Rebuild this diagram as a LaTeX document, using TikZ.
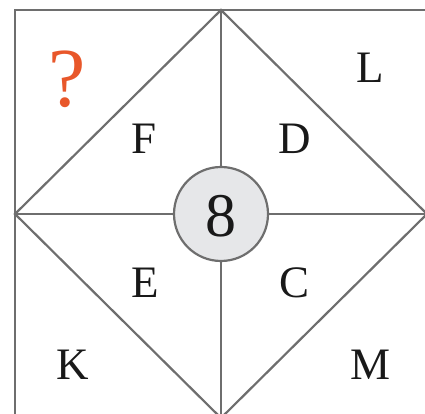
\documentclass[tikz,border=0pt]{standalone}
\usepackage{fontspec}
\setmainfont{Liberation Serif}
\definecolor{linegray}{HTML}{6E6E6E}
\definecolor{circfill}{HTML}{E6E7E9}
\definecolor{qorange}{HTML}{E8572A}
\begin{document}
\begin{tikzpicture}[x=1pt,y=1pt,
  edge/.style={draw=linegray,line width=2.2pt},
  lab/.style={inner sep=0pt,anchor=base,font=\fontsize{45}{45}\selectfont,text=black!90}]
\useasboundingbox (0,0) rectangle (425,414);
\clip (0,0) rectangle (425,414);
\coordinate (T) at (221,404);
\coordinate (Lf) at (15,200);
\coordinate (R) at (427,200);
\coordinate (B) at (221,-4);
\coordinate (TL) at (15,404);
\coordinate (TR) at (440,404);
\coordinate (BL) at (15,-10);
\draw[edge] (BL) -- (TL) -- (TR);
\draw[edge] (T) -- (Lf) -- (B) -- (R) -- cycle;
\draw[edge] (T) -- (B);
\draw[edge] (Lf) -- (R);
\node[circle,draw=linegray,line width=2.2pt,fill=circfill,minimum size=94pt,inner sep=0pt] (c) at (221,200) {};
\node[inner sep=0pt,font=\fontsize{62}{62}\selectfont,text=black!90] (n8) at (221,197.5) {8};
\node[lab,font=\fontsize{84}{84}\selectfont,text=qorange] (q) at (67,307) {?};
\node[lab] (l) at (370,331) {L};
\node[lab] (f) at (144,260) {F};
\node[lab] (d) at (295,260) {D};
\node[lab] (e) at (145,116) {E};
\node[lab] (cc) at (295,116) {C};
\node[lab] (k) at (73,34) {K};
\node[lab] (m) at (370,34) {M};
\end{tikzpicture}
\end{document}
